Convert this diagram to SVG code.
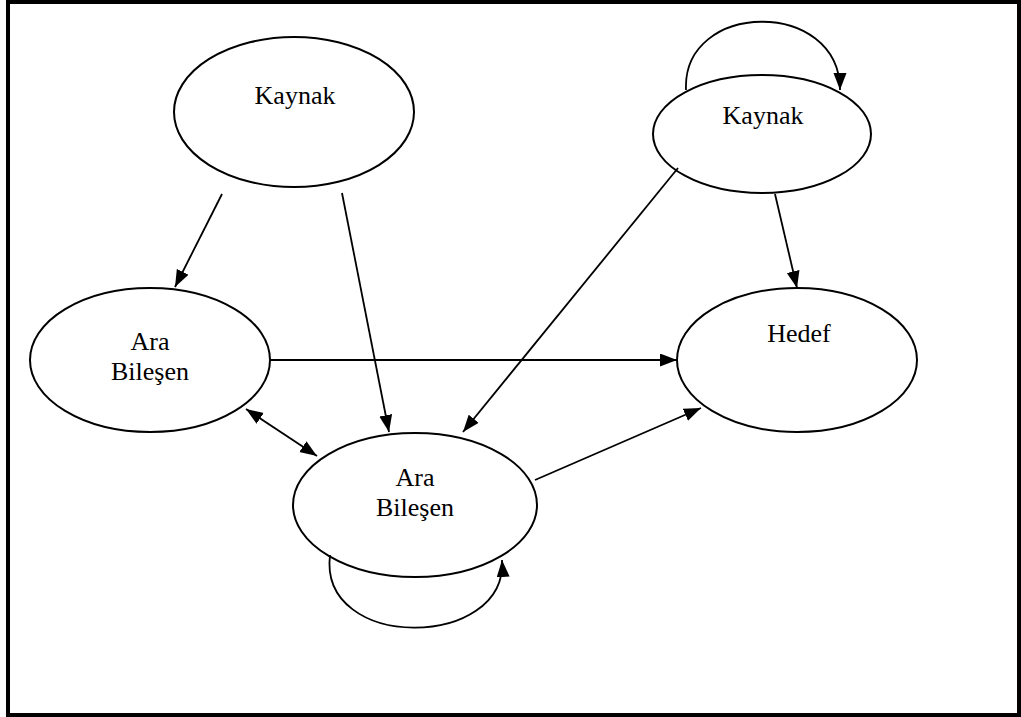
<svg xmlns="http://www.w3.org/2000/svg" width="1021" height="717" viewBox="0 0 1021 717">
<style>
.node ellipse{fill:#fff;stroke:#000;stroke-width:2}
.node text{font-family:'Liberation Serif','Times New Roman',serif;font-size:26px;fill:#000;text-anchor:middle}
.edges path,.edges line{fill:none;stroke:#000;stroke-width:1.8}
</style>
<defs>
<marker id="ah" markerUnits="userSpaceOnUse" markerWidth="18" markerHeight="14" refX="17" refY="6.5" orient="auto-start-reverse">
<path d="M0,0 L17,6.5 L0,13 z" fill="#000"/>
</marker>
</defs>
<rect x="8" y="2" width="1011" height="713" fill="#fff" stroke="#000" stroke-width="4"/>
<g id="n-kaynak1" class="node">
<ellipse cx="294" cy="112" rx="120" ry="75"/>
<text x="295" y="104">Kaynak</text>
</g>
<g id="n-kaynak2" class="node">
<ellipse cx="762" cy="134" rx="109" ry="59"/>
<text x="763" y="124">Kaynak</text>
</g>
<g id="n-ara1" class="node">
<ellipse cx="150" cy="360" rx="120" ry="72"/>
<text x="150" y="350">Ara</text>
<text x="150" y="380">Bileşen</text>
</g>
<g id="n-ara2" class="node">
<ellipse cx="415" cy="505" rx="122" ry="72"/>
<text x="415" y="486">Ara</text>
<text x="415" y="516">Bileşen</text>
</g>
<g id="n-hedef" class="node">
<ellipse cx="797" cy="360" rx="120" ry="72"/>
<text x="799" y="342">Hedef</text>
</g>
<g id="edges" class="edges">
<line x1="222" y1="194" x2="175" y2="287" marker-end="url(#ah)"/>
<line x1="342" y1="193" x2="389" y2="432" marker-end="url(#ah)"/>
<line x1="270" y1="360" x2="677" y2="360" marker-end="url(#ah)"/>
<line x1="246" y1="409" x2="317" y2="456" marker-start="url(#ah)" marker-end="url(#ah)"/>
<line x1="678" y1="168" x2="463" y2="432" marker-end="url(#ah)"/>
<line x1="775" y1="194" x2="797" y2="288" marker-end="url(#ah)"/>
<line x1="535" y1="480" x2="701" y2="408" marker-end="url(#ah)"/>
<path d="M686,90 C682,0 840,-2 840,90" marker-end="url(#ah)"/>
<path d="M330,555 C318,652 508,650 502,560" marker-end="url(#ah)"/>
</g>
</svg>
